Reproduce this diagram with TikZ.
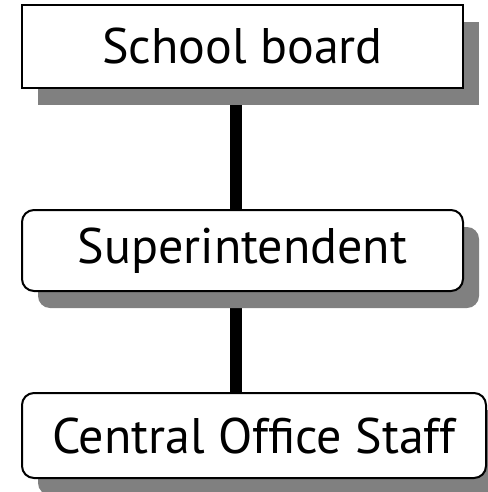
\documentclass[tikz,border=0pt]{standalone}
\usepackage{fontspec}
\setmainfont{PT Sans}
\usetikzlibrary{shadows}
\definecolor{shadowgray}{HTML}{808080}
\pgfdeclarelayer{links}
\pgfsetlayers{links,main}
\begin{document}
\begin{tikzpicture}[x=1pt,y=-1pt,
  orgbox/.style={draw=black, line width=2pt, fill=white, inner sep=0pt,
    font=\fontsize{50}{60}\selectfont,
    drop shadow={shadow xshift=16pt, shadow yshift=-17pt, fill=shadowgray, opacity=1}},
  roundbox/.style={orgbox, rounded corners=12pt},
  link/.style={line width=12pt, black}]
  \useasboundingbox (0,0) rectangle (487,492);
  % chain of command, top to bottom
  \node[orgbox, minimum width=441pt, minimum height=83pt] (board) at (242.5,46.5) {School board};
  \node[roundbox, minimum width=441pt, minimum height=81pt] (super) at (242.5,250.5) {Superintendent};
  \node[roundbox, minimum width=464pt, minimum height=85pt] (staff) at (254,435.5) {Central Office Staff};
  % connectors sit behind the boxes and their shadows
  \coordinate (c1) at (235.5,0);
  \begin{pgfonlayer}{links}
    \draw[link] (board.south -| c1) -- (super.north -| c1);
    \draw[link] (super.south -| c1) -- (staff.north -| c1);
  \end{pgfonlayer}
\end{tikzpicture}
\end{document}
